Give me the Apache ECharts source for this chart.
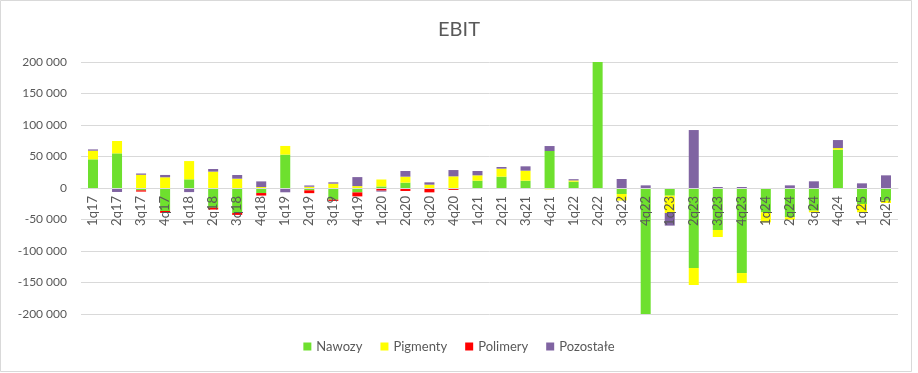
<!DOCTYPE html>
<html>
<head>
<meta charset="utf-8">
<script src="https://cdn.jsdelivr.net/npm/echarts@6/dist/echarts.min.js"></script>
<style>
html,body{margin:0;padding:0;background:#fff;}
#chart{width:918px;height:373px;}
</style>
</head>
<body>
<div id="chart"></div>
<script>
const categories = ['1q17','2q17','3q17','4q17','1q18','2q18','3q18','4q18','1q19','2q19','3q19','4q19','1q20','2q20','3q20','4q20','1q21','2q21','3q21','4q21','1q22','2q22','3q22','4q22','1q23','2q23','3q23','4q23','1q24','2q24','3q24','4q24','1q25','2q25'];
const nawozy = [45500,55000,-3700,-36500,13750,-31200,-39700,-8000,53000,-3700,-18500,-7000,2500,8500,0,0,11600,18000,11600,58700,10000,220000,-9500,-220000,-12200,-127000,-66700,-135000,-38600,-46500,-36000,60800,-25400,-20100];
const pigmenty = [13750,19600,21000,17000,29000,26000,14800,1500,13750,2000,6900,3000,11000,9500,5300,18500,8500,12700,15900,-2000,2000,0,-10500,0,-27500,-27000,-11100,-15900,-15900,-3700,-2600,2600,-13200,-3700];
const polimery = [-1500,0,-2000,-3000,0,-3000,-3000,-4000,-1500,-4500,-2000,-6300,-4200,-4700,-6900,-3000,0,0,0,0,0,0,0,0,0,0,0,0,0,0,0,0,0,0];
const pozostale = [2000,-6300,2000,3700,-6500,4200,5800,9000,-5300,2000,2100,14300,-1500,9000,3700,10000,6900,2600,6900,7900,2000,0,14300,4200,-20000,92000,1600,1600,0,4200,10600,12700,7400,20100];
const seriesNames = ['Nawozy','Pigmenty','Polimery','Pozostałe'];
const seriesColors = ['#6EE02E','#FFFF00','#FF0000','#8064A2'];

function fmt(v){
  const neg = v < 0;
  let s = Math.abs(v).toString().replace(/\B(?=(\d{3})+(?!\d))/g, ' ');
  return (neg ? '-' : '') + s;
}

const font = 'Lato, "Open Sans", sans-serif';
const chart = echarts.init(document.getElementById('chart'));
const datas = [nawozy, pigmenty, polimery, pozostale];
chart.setOption({
  animation: false,
  backgroundColor: '#fff',
  graphic: [{
    type: 'rect',
    shape: {x: 0.5, y: 0.5, width: 911, height: 371},
    style: {fill: 'none', stroke: '#d9d9d9', lineWidth: 1},
    z: -1
  }],
  title: {
    text: 'EBIT',
    left: 'center',
    top: 15,
    textStyle: {fontFamily: font, fontSize: 20, fontWeight: 'normal', color: '#595959'}
  },
  legend: {
    bottom: 15,
    left: 'center',
    itemWidth: 8,
    itemHeight: 8,
    itemGap: 18,
    icon: 'rect',
    textStyle: {fontFamily: font, fontSize: 13, color: '#595959'},
    data: seriesNames
  },
  grid: {left: 81, right: 20, top: 62, bottom: 59, containLabel: false},
  xAxis: {
    type: 'category',
    data: categories,
    z: 10,
    position: 'bottom',
    offset: -126,
    axisLine: {onZero: false, lineStyle: {color: '#d9d9d9', width: 1}},
    axisTick: {show: false},
    axisLabel: {rotate: 90, fontFamily: font, fontSize: 13, color: '#595959', margin: 8, interval: 0}
  },
  yAxis: {
    type: 'value',
    min: -200000,
    max: 200000,
    interval: 50000,
    axisLine: {show: false},
    axisTick: {show: false},
    splitLine: {lineStyle: {color: '#d9d9d9', width: 1}},
    axisLabel: {fontFamily: font, fontSize: 12, color: '#595959', margin: 14, formatter: fmt}
  },
  series: seriesNames.map((n, i) => ({
    name: n,
    type: 'bar',
    stack: 'total',
    barWidth: 10,
    clip: true,
    itemStyle: {color: seriesColors[i]},
    data: datas[i]
  }))
});
</script>
</body>
</html>
